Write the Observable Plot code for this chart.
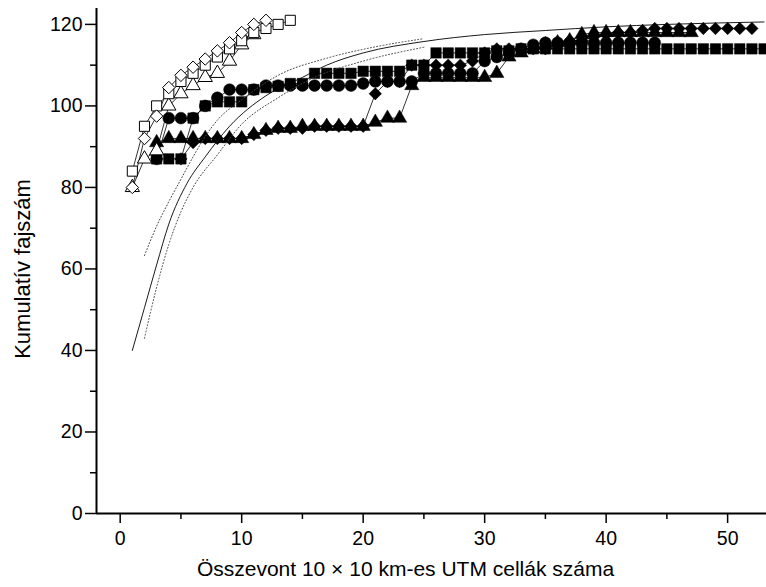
<!DOCTYPE html>
<html><head><meta charset="utf-8">
<script src="https://cdn.jsdelivr.net/npm/d3@7"></script>
<script src="https://cdn.jsdelivr.net/npm/@observablehq/plot@0.6"></script>
<style>body{margin:0;background:#fff} svg{display:block}</style>
</head><body><div id="chart"></div>
<script>
// Cumulative species counts; x = number of merged 10x10 km UTM cells (start + index)
const openSquaresStart = 1;
const openSquares = [84, 95, 100, 103, 106, 108, 110, 112, 114, 116, 118, 119, 120, 121];
const openDiamondsStart = 1;
const openDiamonds = [80, 92, 97.5, 104.5, 107.5, 109.5, 111.5, 113.5, 115.5, 118, 120, 121];
const openTrianglesStart = 1;
const openTriangles = [80, 87, 89, 100, 103, 105, 107, 108, 111, 115, 117.5];

const filledSquaresStart = 3;
const filledSquares = [87, 87, 87, 97, 100, 101, 101, 101, 104, 104.5, 104.8, 105.5, 105.5, 108, 108, 108, 108, 108.5, 108.5, 108.5, 108.5, 110, 110, 113, 113, 113, 113, 113, 113.5, 113.5,
  114, 114, 114, 114, 114, 114, 114, 114, 114, 114, 114, 114, 114, 114, 114, 114, 114, 114, 114, 114, 114];
const filledCirclesStart = 3;
const filledCircles = [87, 97, 97, 97, 100, 102, 104, 104, 104, 105, 105, 105, 105, 105, 105, 105, 105, 105.5, 106, 106, 106, 106, 108, 108, 108, 108, 108, 111, 112, 113, 114, 115,
  115.5, 115.5, 115.5, 115.5, 115.5, 115.5, 115.5, 115.5, 115.5, 115.5];
const filledTrianglesStart = 3;
const filledTriangles = [91, 92, 92, 92, 92, 92, 92, 92, 93, 94, 94.5, 94.5, 95, 95, 95, 95, 95, 95, 96, 97, 97, 105, 107, 107, 107, 107, 107, 107, 108, 112, 113, 114, 115, 115.5, 116,
  117.5, 118, 118, 118, 118, 118, 118, 118, 118, 118];
const filledDiamondsStart = 5;
const filledDiamonds = [87, 91, 92, 92, 92, 92, 93, 94, 94.5, 94.5, 94.5, 95, 95, 95, 95, 95, 103, 106, 106, 110, 110, 110, 110, 110, 111, 113, 114, 114, 114, 114, 114, 115.5, 116, 116, 117, 117.5,
  118, 118, 118.5, 119, 119, 119, 119, 119, 119, 119, 119, 119];

// Fitted accumulation curve and its confidence band
const fitX = [1, 2, 3, 4, 5.5, 7, 9, 12, 15, 17, 20, 25, 30, 35, 40, 45, 53];
const fitY = [40, 50.5, 61, 71, 81, 87.5, 95, 102.5, 107, 110, 113, 115.8, 117.5, 118.5, 119.4, 120, 120.6];
const upperX = [2, 3, 4, 5, 6, 7, 8, 10, 13, 17, 21, 25];
const upperY = [63.3, 70.5, 76.5, 82, 87.5, 92.5, 96.5, 101.5, 107.5, 111.7, 114.5, 116.5];
const lowerX = [2, 3, 4, 5, 6, 8, 10, 13, 16, 20, 25];
const lowerY = [43, 55.5, 66, 74, 80, 88, 95.5, 102, 107, 111, 114.4];

const xTicksMajor = [0, 10, 20, 30, 40, 50];
const xTicksMinor = [5, 15, 25, 35, 45];
const yTicksMajor = [0, 20, 40, 60, 80, 100, 120];
const yTicksMinor = [10, 30, 50, 70, 90, 110];

const xTitle = "Összevont 10 × 10 km-es UTM cellák száma";
const yTitle = "Kumulatív fajszám";

const rows = (start, vals) => vals.map((y, i) => ({x: start + i, y}));
const pts = (xs, ys) => xs.map((x, i) => ({x, y: ys[i]}));

const sOS = rows(openSquaresStart, openSquares);
const sOD = rows(openDiamondsStart, openDiamonds);
const sOT = rows(openTrianglesStart, openTriangles);
const sFS = rows(filledSquaresStart, filledSquares);
const sFC = rows(filledCirclesStart, filledCircles);
const sFT = rows(filledTrianglesStart, filledTriangles);
const sFD = rows(filledDiamondsStart, filledDiamonds);

const xMin = -1.95, xMax = 53.2, yMax = 123.9;
const lineOpt = {x: "x", y: "y", stroke: "black", strokeWidth: 0.8};
const font = 19.5;

const chart = Plot.plot({
  width: 766, height: 587,
  marginTop: 8, marginRight: 0, marginBottom: 74, marginLeft: 96,
  x: {domain: [xMin, xMax]},
  y: {domain: [0, yMax]},
  style: {fontFamily: "'Liberation Sans', Arial, sans-serif", color: "black", background: "white"},
  marks: [
    Plot.axisY({ticks: yTicksMajor, tickSize: 11, tickPadding: 3, fontSize: font, label: null, strokeWidth: 1.5}),
    Plot.axisY({ticks: yTicksMinor, tickSize: 6, tickFormat: () => "", label: null, strokeWidth: 1.5}),
    Plot.axisX({ticks: xTicksMajor, tickSize: 10, tickPadding: 8, fontSize: font, label: null, strokeWidth: 1.5}),
    Plot.axisX({ticks: xTicksMinor, tickSize: 6, tickFormat: () => "", label: null, strokeWidth: 1.5}),
    Plot.ruleY([0], {stroke: "black", strokeWidth: 2}),
    Plot.ruleX([xMin], {stroke: "black", strokeWidth: 2}),
    Plot.line(sFS, lineOpt), Plot.line(sFC, lineOpt), Plot.line(sFT, lineOpt), Plot.line(sFD, lineOpt),
    Plot.line(sOT, lineOpt), Plot.line(sOS, lineOpt), Plot.line(sOD, lineOpt),
    Plot.dot(sFS, {x: "x", y: "y", symbol: "square", r: 5.9, fill: "black", stroke: "black", strokeWidth: 0.5}),
    Plot.dot(sFC, {x: "x", y: "y", symbol: "circle", r: 5.9, fill: "black", stroke: "black", strokeWidth: 0.5}),
    Plot.dot(sFT, {x: "x", y: "y", symbol: "triangle", r: 5.3, fill: "black", stroke: "black", strokeWidth: 0.5}),
    Plot.dot(sFD, {x: "x", y: "y", symbol: "diamond2", r: 5.6, fill: "black", stroke: "black", strokeWidth: 0.5}),
    Plot.dot(sOT, {x: "x", y: "y", symbol: "triangle", r: 5.3, fill: "white", stroke: "black", strokeWidth: 1}),
    Plot.dot(sOS, {x: "x", y: "y", symbol: "square", r: 5.7, fill: "white", stroke: "black", strokeWidth: 1}),
    Plot.dot(sOD, {x: "x", y: "y", symbol: "diamond2", r: 5.6, fill: "white", stroke: "black", strokeWidth: 1}),
    Plot.line(pts(upperX, upperY), {x: "x", y: "y", curve: "monotone-x", stroke: "#444", strokeWidth: 1, strokeDasharray: "1,2.2"}),
    Plot.line(pts(lowerX, lowerY), {x: "x", y: "y", curve: "monotone-x", stroke: "#444", strokeWidth: 1, strokeDasharray: "1,2.2"}),
    Plot.line(pts(fitX, fitY), {x: "x", y: "y", curve: "monotone-x", stroke: "black", strokeWidth: 0.9}),
    Plot.text([yTitle], {frameAnchor: "left", textAnchor: "middle", rotate: -90, dx: -74, dy: 8, fontSize: 22, fill: "black"}),
    Plot.text([xTitle], {frameAnchor: "bottom", textAnchor: "middle", dx: -26, dy: 62, fontSize: 21, fill: "black"})
  ]
});
document.getElementById("chart").appendChild(chart);
</script>
</body></html>
